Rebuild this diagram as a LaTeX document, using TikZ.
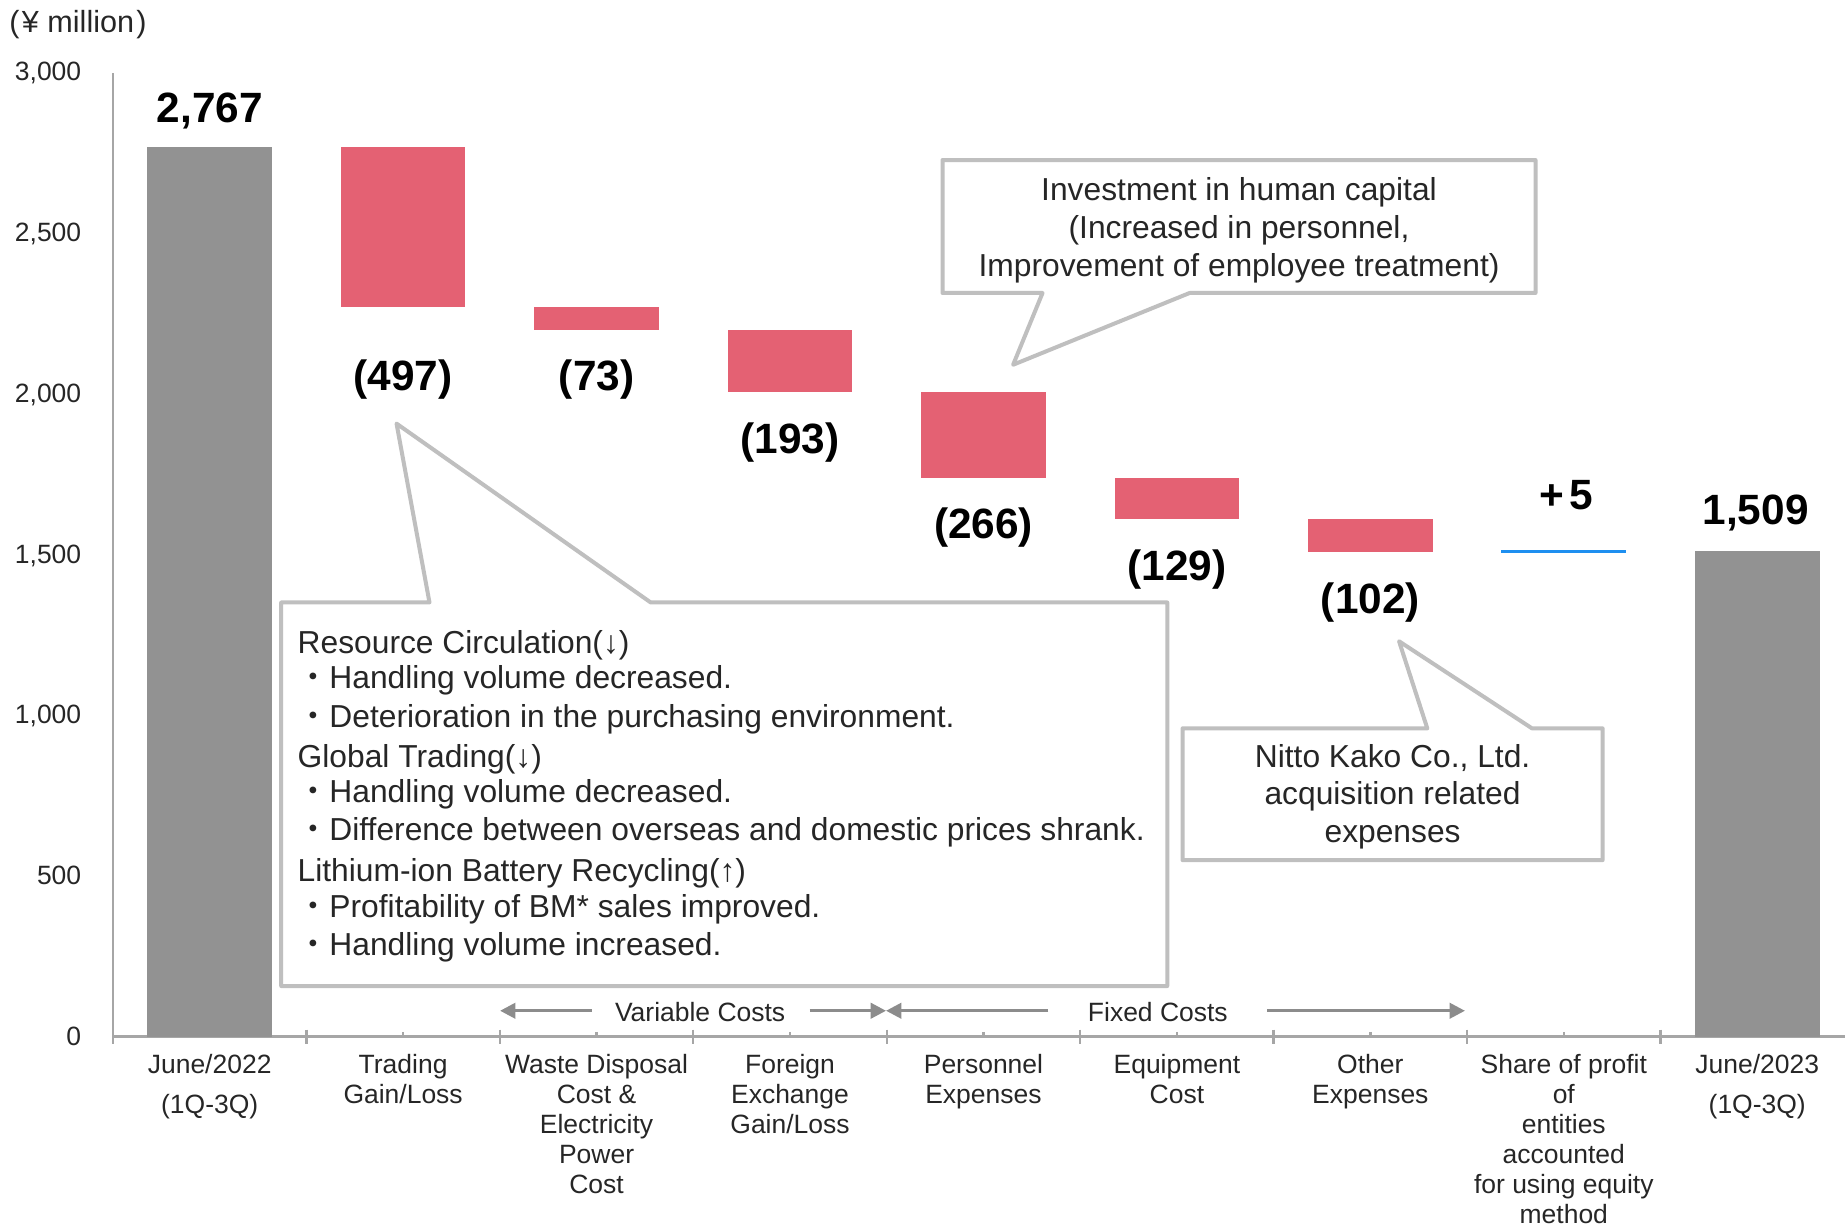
\documentclass[tikz,border=0pt]{standalone}
\usepackage{fontspec}
\setmainfont{Liberation Sans}
\newfontfamily\cjk{Noto Sans CJK JP}
\usetikzlibrary{arrows.meta}
\definecolor{barred}{HTML}{E46173}
\definecolor{bargray}{HTML}{929292}
\definecolor{axisgray}{HTML}{A6A6A6}
\definecolor{callgray}{HTML}{BFBFBF}
\definecolor{arrgray}{HTML}{8C8C8C}
\definecolor{txt}{HTML}{262626}
\definecolor{eqblue}{HTML}{1E8FF0}
\newcommand{\bul}{{\cjk ・}}
\begin{document}
\begin{tikzpicture}[x=0.5pt,y=-0.5pt,
  every node/.style={inner sep=0pt, outer sep=0pt},
  ylab/.style={anchor=base east, font=\fontsize{11.25}{13}\selectfont, text=txt},
  catlab/.style={anchor=base, font=\fontsize{11.25}{13}\selectfont, text=txt},
  valab/.style={anchor=base, font=\fontsize{18}{21}\selectfont\bfseries, text=black},
  calltxt/.style={font=\fontsize{13.5}{16}\selectfont, text=txt},
  callleft/.style={calltxt, anchor=base west},
  callmid/.style={calltxt, anchor=base},
  callbox/.style={draw=callgray, line width=1.7pt, fill=white, line join=round},
  redbar/.style={fill=barred},
  graybar/.style={fill=bargray},
  axisline/.style={draw=axisgray, line width=1pt},
  costarrow/.style={draw=arrgray, line width=1.3pt, -{Triangle[length=6.5pt,width=6.5pt]}},
]
\useasboundingbox (0,0) rectangle (1568,1044);

% axes
\draw[axisline] (96,62) -- (96,881);
\draw[axisline] (96,881) -- (1568,881);
\foreach \k in {0,...,9} {
  \draw[axisline] ({96+164.4*\k},875) -- ({96+164.4*\k},887);
}
\foreach \k in {0,...,8} {
  \draw[axisline] ({178.2+164.4*\k},877) -- ({178.2+164.4*\k},881);
}

% y labels
\node[ylab] (y3000) at (69,68.5) {3,000};
\node[ylab] (y2500) at (69,205) {2,500};
\node[ylab] (y2000) at (69,342) {2,000};
\node[ylab] (y1500) at (69,478.5) {1,500};
\node[ylab] (y1000) at (69,615) {1,000};
\node[ylab] (y500) at (69,752) {500};
\node[ylab] (y0) at (69,888.5) {0};
\node[anchor=base west, font=\fontsize{13}{15}\selectfont, text=txt] (unit) at (8,28) {(\hspace{1pt}¥ million\hspace{1pt})};

% bars
\path[graybar] (125.2,124.7) rectangle (231.2,881);
\path[redbar] (289.6,124.7) rectangle (395.6,260.5);
\path[redbar] (454,260.5) rectangle (560,280.5);
\path[redbar] (618.4,280.5) rectangle (724.4,333.2);
\path[redbar] (782.8,333.2) rectangle (888.8,406);
\path[redbar] (947.2,406) rectangle (1053.2,441.2);
\path[redbar] (1111.6,441.2) rectangle (1217.6,469.1);
\draw[eqblue, line width=1.2pt] (1276,468.4) -- (1382,468.4);
\path[graybar] (1440.4,468.5) rectangle (1546.4,881);

% value labels
\node[valab] (v1) at (178.2,104.5) {2,767};
\node[valab] (v2) at (342.6,331.5) {(497)};
\node[valab] (v3) at (507,331.5) {(73)};
\node[valab] (v4) at (671.4,385.5) {(193)};
\node[valab] (v5) at (835.8,457.5) {(266)};
\node[valab] (v6) at (1000.2,493.5) {(129)};
\node[valab] (v7) at (1164.6,521.5) {(102)};
\node[valab] (v8) at (1331,433) {+\hspace{2.5pt}5};
\node[valab] (v9) at (1492,446) {1,509};

% callout 1
\path[callbox] (239,512) -- (365,512) -- (337,360) -- (553,512) -- (992,512) -- (992,838) -- (239,838) -- cycle;
\node[callleft] (c1a) at (253,555) {Resource Circulation(↓)};
\node[callleft] (c1b) at (253,585) {\bul Handling volume decreased.};
\node[callleft] (c1c) at (253,618) {\bul Deterioration in the purchasing environment.};
\node[callleft] (c1d) at (253,652) {Global Trading(↓)};
\node[callleft] (c1e) at (253,682) {\bul Handling volume decreased.};
\node[callleft] (c1f) at (253,714.5) {\bul Difference between overseas and domestic prices shrank.};
\node[callleft] (c1g) at (253,749) {Lithium-ion Battery Recycling(↑)};
\node[callleft] (c1h) at (253,780) {\bul Profitability of BM* sales improved.};
\node[callleft] (c1i) at (253,812) {\bul Handling volume increased.};

% callout 2
\path[callbox] (801,136) -- (1305,136) -- (1305,249) -- (1011,249) -- (861,310) -- (886,249) -- (801,249) -- cycle;
\node[callmid] (c2a) at (1053,170) {Investment in human capital};
\node[callmid] (c2b) at (1053,202.5) {(Increased in personnel,};
\node[callmid] (c2c) at (1053,235) {Improvement of employee treatment)};

% callout 3
\path[callbox] (1005,619) -- (1213,619) -- (1189,545) -- (1302,619) -- (1362,619) -- (1362,731) -- (1005,731) -- cycle;
\node[callmid] (c3a) at (1183.5,652) {Nitto Kako Co., Ltd.};
\node[callmid] (c3b) at (1183.5,684) {acquisition related};
\node[callmid] (c3c) at (1183.5,716) {expenses};

% variable / fixed costs
\node[catlab] (vc) at (595,868) {Variable Costs};
\node[catlab] (fc) at (984,868) {Fixed Costs};
\coordinate (vcL0) at (503,859);
\coordinate (vcL1) at (425,859);
\coordinate (vcR0) at (688,859);
\coordinate (mid) at (753,859);
\coordinate (fcL0) at (891,859);
\coordinate (fcR0) at (1077,859);
\coordinate (fcR1) at (1245,859);
\draw[costarrow] (vcL0) -- (vcL1);
\draw[costarrow] (vcR0) -- (mid);
\draw[costarrow] (fcL0) -- (mid);
\draw[costarrow] (fcR0) -- (fcR1);

% category labels
\node[catlab] (k1a) at (178.2,912) {June/2022};
\node[catlab] (k1b) at (178.2,946) {(1Q-3Q)};
\node[catlab] (k2a) at (342.6,912) {Trading};
\node[catlab] (k2b) at (342.6,938) {Gain/Loss};
\node[catlab] (k3a) at (507,912) {Waste Disposal};
\node[catlab] (k3b) at (507,938) {Cost \&};
\node[catlab] (k3c) at (507,963.5) {Electricity};
\node[catlab] (k3d) at (507,989) {Power};
\node[catlab] (k3e) at (507,1014.5) {Cost};
\node[catlab] (k4a) at (671.4,912) {Foreign};
\node[catlab] (k4b) at (671.4,938) {Exchange};
\node[catlab] (k4c) at (671.4,963.5) {Gain/Loss};
\node[catlab] (k5a) at (835.8,912) {Personnel};
\node[catlab] (k5b) at (835.8,938) {Expenses};
\node[catlab] (k6a) at (1000.2,912) {Equipment};
\node[catlab] (k6b) at (1000.2,938) {Cost};
\node[catlab] (k7a) at (1164.6,912) {Other};
\node[catlab] (k7b) at (1164.6,938) {Expenses};
\node[catlab] (k8a) at (1329,912) {Share of profit};
\node[catlab] (k8b) at (1329,938) {of};
\node[catlab] (k8c) at (1329,963.5) {entities};
\node[catlab] (k8d) at (1329,989) {accounted};
\node[catlab] (k8e) at (1329,1014.5) {for using equity};
\node[catlab] (k8f) at (1329,1040) {method};
\node[catlab] (k9a) at (1493.4,912) {June/2023};
\node[catlab] (k9b) at (1493.4,946) {(1Q-3Q)};
\end{tikzpicture}
\end{document}
